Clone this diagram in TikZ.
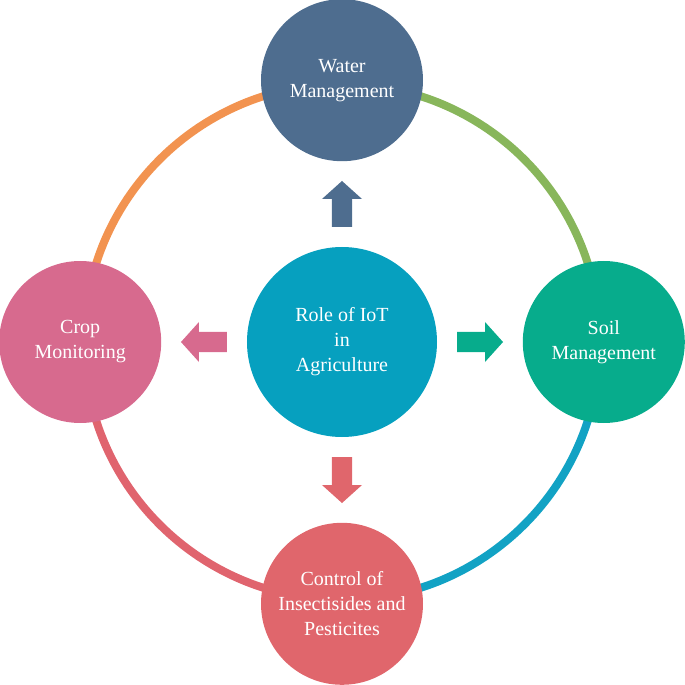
\documentclass[tikz,border=0pt]{standalone}
\usepackage{fontspec}
\setmainfont{Liberation Serif}
\usepackage{tikz}
\usetikzlibrary{positioning}

\definecolor{watercol}{HTML}{4E6D8F}
\definecolor{hubcol}{HTML}{06A0BF}
\definecolor{soilcol}{HTML}{07AC8C}
\definecolor{cropcol}{HTML}{D76A8E}
\definecolor{pestcol}{HTML}{E0666C}
\definecolor{ringorange}{HTML}{F29350}
\definecolor{ringgreen}{HTML}{88B65B}
\definecolor{ringblue}{HTML}{12A2C4}
\definecolor{ringred}{HTML}{E0646E}

\begin{document}
\begin{tikzpicture}[
  x=0.5pt, y=0.5pt,
  font=\fontsize{10}{12.5}\selectfont,
  node distance=42.5pt,
  hubnode/.style={circle, fill=hubcol, text=white, align=center, minimum size=95pt, inner sep=0pt},
  topic/.style={circle, text=white, align=center, minimum size=81pt, inner sep=0pt},
  ring/.style={line width=4pt}
]
\useasboundingbox (-342,-343) rectangle (343,342);

% ring behind the circles
\draw[ring, ringorange] (90:129pt) arc (90:180:129pt);
\draw[ring, ringred] (180:129pt) arc (180:270:129pt);
\draw[ring, ringblue] (270:129pt) arc (270:360:129pt);
\draw[ring, ringgreen] (0:129pt) arc (0:90:129pt);

\node[hubnode] (hub) at (0,0) {Role of IoT\\in\\Agriculture};

\node[topic, fill=watercol, above=of hub] (water) {Water\\Management};
\node[topic, fill=soilcol, right=of hub] (soil) {Soil\\Management};
\node[topic, fill=pestcol, below=of hub] (pest) {Control of\\Insectisides and\\Pesticites};
\node[topic, fill=cropcol, left=of hub] (crop) {Crop\\Monitoring};

% block arrows from the hub
\foreach \ang/\col in {90/watercol, 0/soilcol, 270/pestcol, 180/cropcol}
  \fill[\col, rotate=\ang] (115,-10) -- (143,-10) -- (143,-20) -- (161,0)
    -- (143,20) -- (143,10) -- (115,10) -- cycle;

\end{tikzpicture}
\end{document}
